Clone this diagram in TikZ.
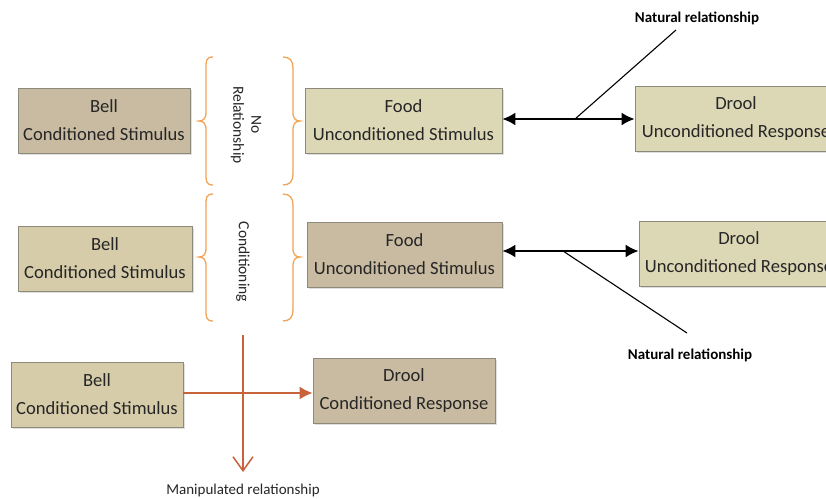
\documentclass[tikz,border=0pt]{standalone}
\usepackage{fontspec}
\setmainfont{Carlito}
\usetikzlibrary{arrows.meta,shadows,calc}
\definecolor{tanbox}{HTML}{C9BBA1}
\definecolor{khakibox}{HTML}{DCD8B6}
\definecolor{midbox}{HTML}{D6CCAA}
\definecolor{boxline}{HTML}{8C8A7A}
\definecolor{txt}{HTML}{262626}
\definecolor{bracecol}{HTML}{F2A455}
\definecolor{redline}{HTML}{C8623A}
\tikzset{
  x=1pt,y=-1pt,
  cbox/.style={draw=boxline, line width=0.9pt, minimum height=65pt, inner sep=0pt,
    align=center, text=txt, font=\fontsize{18.6}{28}\selectfont,
    drop shadow={shadow xshift=1.5pt, shadow yshift=-1.5pt, opacity=0.25}},
  natlabel/.style={font=\fontsize{15}{18}\selectfont\bfseries, text=black, inner sep=1pt},
  natline/.style={line width=1.1pt, black},
  dblarrow/.style={line width=1.5pt, black, {Latex[length=13pt,width=13pt]}-{Latex[length=13pt,width=13pt]}},
  bracestyle/.style={draw=bracecol, line width=1.3pt},
  vlabel/.style={rotate=-90, align=center, text=txt, font=\fontsize{15.5}{18}\selectfont},
  redarrow/.style={draw=redline, line width=1.5pt},
}
\begin{document}
\begin{tikzpicture}
\useasboundingbox (0,0) rectangle (826,498);
\clip (0,0) rectangle (826,498);
\fill[white] (0,0) rectangle (826,498);

% Row 1
\node[cbox, fill=tanbox, minimum width=172pt] (bell1) at (104,120.5) {Bell\\Conditioned Stimulus};
\node[cbox, fill=khakibox, minimum width=197pt] (food1) at (403.5,120.5) {Food\\Unconditioned Stimulus};
\node[cbox, fill=khakibox, minimum width=202pt] (drool1) at (736,118.5) {Drool\\Unconditioned Response};

% Row 2
\node[cbox, fill=midbox, minimum width=174pt] (bell2) at (105,258.5) {Bell\\Conditioned Stimulus};
\node[cbox, fill=tanbox, minimum width=195pt] (food2) at (404.5,254.5) {Food\\Unconditioned Stimulus};
\node[cbox, fill=khakibox, minimum width=200pt] (drool2) at (739,254) {Drool\\Unconditioned Response};

% Row 3
\node[cbox, fill=midbox, minimum width=172pt] (bell3) at (97,394.5) {Bell\\Conditioned Stimulus};
\node[cbox, fill=tanbox, minimum width=182pt] (drool3) at (404,390.5) {Drool\\Conditioned Response};

% Braces row 1
\draw[bracestyle] (213,57) .. controls (206,57) and (206,61) .. (206,68) -- (206,112)
  .. controls (206,119) and (203,121) .. (199,121) .. controls (203,121) and (206,123) .. (206,130)
  -- (206,174) .. controls (206,181) and (206,185) .. (213,185);
\draw[bracestyle] (283,57) .. controls (290,57) and (293,61) .. (293,68) -- (293,112)
  .. controls (293,119) and (296,121) .. (300,121) .. controls (296,121) and (293,123) .. (293,130)
  -- (293,174) .. controls (293,181) and (290,185) .. (283,185);
\node[vlabel] (norel) at (246,125) {No\\Relationship};

% Braces row 2
\draw[bracestyle] (213,194) .. controls (206,194) and (206,198) .. (206,205) -- (206,248)
  .. controls (206,255) and (203,257) .. (199,257) .. controls (203,257) and (206,259) .. (206,266)
  -- (206,310) .. controls (206,317) and (206,321) .. (213,321);
\draw[bracestyle] (283,194) .. controls (290,194) and (293,198) .. (293,205) -- (293,248)
  .. controls (293,255) and (296,257) .. (300,257) .. controls (296,257) and (293,259) .. (293,266)
  -- (293,310) .. controls (293,317) and (290,321) .. (283,321);
\node[vlabel] (cond) at (243,262) {Conditioning};

% Natural relationship row 1
\draw[dblarrow] (food1.east |- 0,119) -- (drool1.west |- 0,119);
\coordinate (j1) at (575,119);
\node[natlabel] (nat1) at (697,18) {Natural relationship};
\coordinate (n1) at (676,30);
\draw[natline] (j1) -- (n1);

% Natural relationship row 2
\draw[dblarrow] (food2.east |- 0,251) -- (drool2.west |- 0,251);
\coordinate (j2) at (563,251);
\node[natlabel] (nat2) at (690,355) {Natural relationship};
\coordinate (n2) at (687,333);
\draw[natline] (j2) -- (n2);

% Row 3 manipulated
\draw[redarrow, -{Latex[length=13pt,width=13pt]}] (bell3.east |- 0,393) -- (drool3.west |- 0,393);
\node[font=\fontsize{15}{18}\selectfont, text=txt] (manip) at (243,490) {Manipulated relationship};
\coordinate (vtop) at (243,335);
\coordinate (vbot) at (243,472);
\draw[redarrow, -{Straight Barb[length=14pt,width=20pt,line width=1.5pt]}] (vtop) -- (vbot);
\end{tikzpicture}
\end{document}
